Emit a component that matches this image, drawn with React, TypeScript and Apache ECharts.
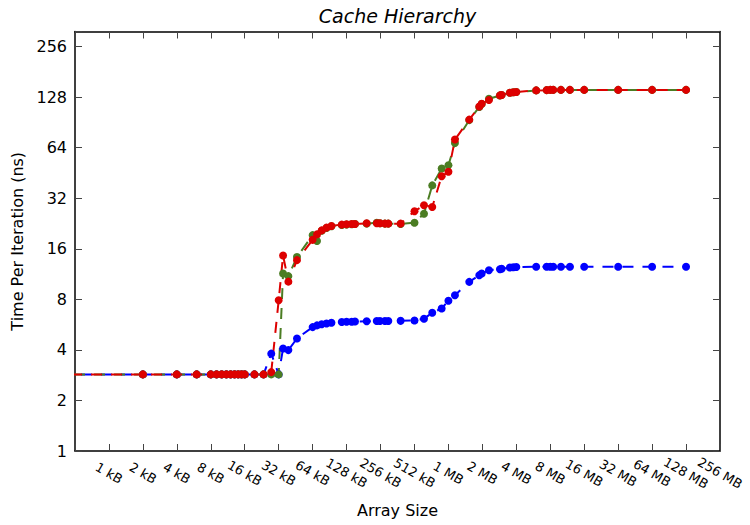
import React, { useEffect, useRef } from "react";
import * as echarts from "echarts";

// Array sizes in kB (first point lies outside the visible range and is clipped)
const sizesKB = [
  0.25, 2, 4, 6, 8, 9, 10, 11, 12, 13, 14, 15, 16, 19.5, 23.5, 27.5, 32, 35, 39, 46.5,
  64, 70, 77, 85, 94, 116, 128, 142, 152, 193, 237, 253, 280, 300, 386, 512, 622, 736, 892, 1024,
  1170, 1567, 1923, 2020, 2343, 2932, 3036, 3590, 3848, 4096, 6144, 7610, 8192, 8705, 10190, 12240,
  16384, 32768, 65536, 131072,
];

// Time per iteration (ns)
const blueNs = [
  2.86, 2.86, 2.86, 2.86, 2.86, 2.86, 2.86, 2.86, 2.86, 2.86, 2.86, 2.86, 2.86, 2.86, 2.86, 3.8, 2.86, 4.08, 3.99, 4.68,
  5.47, 5.6, 5.69, 5.75, 5.8, 5.87, 5.88, 5.89, 5.9, 5.93, 5.94, 5.94, 5.95, 5.95, 5.96, 5.99, 6.14, 6.66, 7.06, 7.85,
  8.47, 10.17, 11.14, 11.4, 11.94, 12.1, 12.17, 12.38, 12.42, 12.47, 12.5, 12.5, 12.5, 12.5, 12.5, 12.5,
  12.5, 12.5, 12.5, 12.5,
];

const greenNs = [
  2.86, 2.86, 2.86, 2.86, 2.86, 2.86, 2.86, 2.86, 2.86, 2.86, 2.86, 2.86, 2.86, 2.86, 2.86, 2.86, 2.86, 11.4, 11.0, 14.3,
  19.3, 17.8, 20.5, 21.3, 21.8, 22.2, 22.3, 22.4, 22.5, 22.6, 22.9, 22.7, 22.6, 22.6, 22.5, 22.9, 25.9, 38.2, 48.1, 50.3,
  68.3, 93.5, 112, 116.5, 125.3, 131, 132, 136, 137, 137.5, 140.5, 141, 141.5, 141.5, 141.5, 141.5,
  141.5, 141.5, 141.5, 141.5,
];

const redNs = [
  2.86, 2.86, 2.86, 2.86, 2.86, 2.86, 2.86, 2.86, 2.86, 2.86, 2.86, 2.86, 2.86, 2.86, 2.86, 2.95, 7.9, 14.6, 10.2, 13.7,
  18.1, 19.5, 20.6, 21.4, 21.9, 22.3, 22.4, 22.5, 22.5, 22.7, 22.7, 22.7, 22.6, 22.6, 22.6, 26.8, 29.1, 28.4, 43.3, 46.0,
  71.6, 94.1, 112.8, 117.1, 123.2, 131.2, 132, 136.2, 137, 137.5, 140.5, 141, 141.5, 141.5, 141.5, 141.5,
  141.5, 141.5, 141.5, 141.5,
];

// Tick labels (x: powers of two from 1 kB = 2^10 bytes; y: powers of two from 1 ns)
const xTickLabels = [
  "1 kB", "2 kB", "4 kB", "8 kB", "16 kB", "32 kB", "64 kB", "128 kB", "256 kB", "512 kB",
  "1 MB", "2 MB", "4 MB", "8 MB", "16 MB", "32 MB", "64 MB", "128 MB", "256 MB",
];
const yTickLabels = ["1", "2", "4", "8", "16", "32", "64", "128", "256"];

const FONT = "'DejaVu Sans', sans-serif";

export default function App() {
  const ref = useRef<HTMLDivElement>(null);

  useEffect(() => {
    document.body.style.margin = "0";
    const chart = echarts.init(ref.current!, null, { renderer: "svg" });

    const toPts = (ys: number[]) =>
      sizesKB.map((s, i) => [Math.log2(s * 1024), Math.log2(ys[i])]);

    const mk = (name: string, color: string, ys: number[], offset: number) => ({
      type: "line",
      name,
      data: toPts(ys),
      xAxisIndex: 0,
      yAxisIndex: 0,
      symbol: "circle",
      symbolSize: 8,
      showSymbol: true,
      clip: true,
      silent: true,
      itemStyle: { color },
      lineStyle: { color, width: 2, type: [11, 9], dashOffset: offset },
    });

    const isInt = (v: number) => Math.abs(v - Math.round(v)) < 1e-6;

    const axisLine = { show: true, onZero: false, lineStyle: { color: "#000", width: 1.5 } };
    const axisTick = { show: true, inside: true, length: 7, lineStyle: { color: "#444", width: 1 } };

    chart.setOption({
      animation: false,
      backgroundColor: "#fff",
      grid: { left: 75, right: 30, top: 31.5, bottom: 74, containLabel: false },
      xAxis: [
        {
          type: "value",
          position: "bottom",
          min: 9,
          max: 28,
          interval: 1,
          axisLine,
          axisTick,
          splitLine: { show: false },
          axisLabel: {
            formatter: (v: number) => {
              if (!isInt(v)) return "";
              const i = Math.round(v) - 10;
              return i >= 0 && i < xTickLabels.length ? xTickLabels[i] : "";
            },
            rotate: -30,
            align: "center",
            verticalAlign: "middle",
            margin: 22,
            fontSize: 13,
            color: "#000",
            fontFamily: FONT,
          },
          name: "Array Size",
          nameLocation: "middle",
          nameGap: 51,
          nameTextStyle: { fontSize: 16, color: "#000", fontFamily: FONT },
        },
        {
          type: "value",
          position: "top",
          min: 9,
          max: 28,
          interval: 1,
          axisLine,
          axisTick,
          splitLine: { show: false },
          axisLabel: { show: false },
        },
      ],
      yAxis: [
        {
          type: "value",
          position: "left",
          min: 0,
          max: 8.3,
          interval: 1,
          axisLine,
          axisTick,
          splitLine: { show: false },
          axisLabel: {
            formatter: (v: number) => {
              if (!isInt(v)) return "";
              const i = Math.round(v);
              return i >= 0 && i < yTickLabels.length ? yTickLabels[i] : "";
            },
            margin: 8,
            fontSize: 16,
            color: "#000",
            fontFamily: FONT,
          },
          name: "Time Per Iteration (ns)",
          nameLocation: "middle",
          nameGap: 48,
          nameTextStyle: { fontSize: 16, color: "#000", fontFamily: FONT },
        },
        {
          type: "value",
          position: "right",
          min: 0,
          max: 8.3,
          interval: 1,
          axisLine,
          axisTick,
          splitLine: { show: false },
          axisLabel: { show: false },
        },
      ],
      graphic: [
        {
          type: "text",
          x: 397.5,
          y: 15.5,
          style: {
            text: "Cache Hierarchy",
            font: "italic 19px 'DejaVu Sans', sans-serif",
            fill: "#000",
            align: "center",
            verticalAlign: "middle",
            textAlign: "center",
            textVerticalAlign: "middle",
          },
        },
      ],
      series: [
        mk("Blue", "#0000ff", blueNs, 0),
        mk("Green", "#4b7d23", greenNs, 7),
        mk("Red", "#dd0000", redNs, 10),
      ],
    });

    return () => chart.dispose();
  }, []);

  return <div ref={ref} style={{ width: 750, height: 525 }} />;
}
